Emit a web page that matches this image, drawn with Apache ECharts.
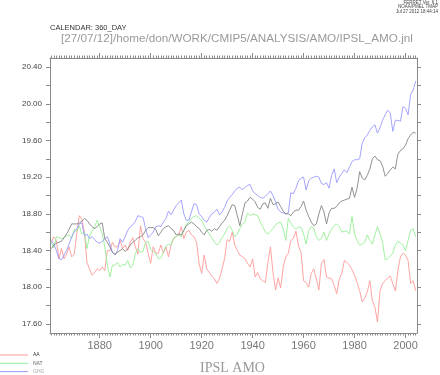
<!DOCTYPE html>
<html>
<head>
<meta charset="utf-8">
<script src="https://cdn.jsdelivr.net/npm/echarts@6/dist/echarts.min.js"></script>
<style>
html,body{margin:0;padding:0;background:#fff;}
#chart{width:440px;height:375px;}
</style>
</head>
<body>
<div id="chart"></div>
<script>
// ---- data (annual values) ----
var startYear = 1861;

var seriesNames = ['AA', 'NAT', 'GHG', 'ALL'];
var legendNames = ['AA', 'NAT', 'GHG'];

var aaValues = [
18.49,18.55,18.51,18.31,18.42,18.31,18.36,18.44,18.33,18.36,
18.58,18.78,18.74,18.60,18.27,18.20,18.13,18.16,18.20,18.18,
18.22,18.18,18.40,18.40,18.49,18.44,18.44,18.51,18.42,18.46,
18.40,18.49,18.54,18.44,18.36,18.67,18.53,18.49,18.37,18.26,
18.44,18.37,18.37,18.46,18.37,18.44,18.33,18.46,18.53,18.55,
18.57,18.66,18.53,18.60,18.62,18.57,18.55,18.49,18.26,18.15,
18.35,18.20,18.16,18.12,18.09,18.04,18.09,18.20,18.31,18.52,
18.50,18.60,18.46,18.40,18.35,18.33,18.31,18.26,18.22,18.31,
18.11,18.16,18.09,18.07,18.05,18.27,18.44,18.16,17.97,18.10,
17.99,18.22,18.33,18.37,18.51,18.53,18.61,18.45,18.38,18.07,
18.05,18.00,18.15,18.20,18.09,17.97,18.26,18.30,18.11,18.10,
18.09,18.02,17.93,18.09,18.15,18.29,18.27,18.24,18.19,18.13,
18.05,17.96,17.84,17.88,17.95,18.07,17.85,17.78,17.62,17.96,
18.04,18.07,18.10,18.12,18.04,17.96,18.18,18.33,18.37,18.35,
18.29,18.04,18.07,17.96
];

var natValues = [
18.49,18.43,18.55,18.54,18.53,18.54,18.56,18.57,18.53,18.63,
18.61,18.67,18.58,18.60,18.42,18.56,18.61,18.66,18.73,18.66,
18.58,18.44,18.24,18.11,18.24,18.24,18.27,18.22,18.25,18.24,
18.29,18.21,18.24,18.37,18.42,18.38,18.39,18.49,18.50,18.41,
18.39,18.37,18.31,18.32,18.38,18.45,18.47,18.46,18.54,18.55,
18.57,18.55,18.62,18.69,18.71,18.75,18.77,18.78,18.75,18.73,
18.67,18.62,18.58,18.54,18.49,18.46,18.49,18.54,18.58,18.64,
18.67,18.62,18.55,18.58,18.64,18.69,18.71,18.81,18.78,18.80,
18.79,18.78,18.71,18.66,18.60,18.58,18.61,18.64,18.68,18.70,
18.71,18.64,18.51,18.75,18.70,18.66,18.63,18.66,18.65,18.58,
18.47,18.62,18.66,18.64,18.55,18.51,18.53,18.60,18.51,18.58,
18.63,18.67,18.69,18.66,18.60,18.61,18.61,18.58,18.77,18.58,
18.51,18.46,18.47,18.49,18.57,18.51,18.47,18.57,18.66,18.58,
18.49,18.30,18.31,18.34,18.37,18.46,18.50,18.48,18.46,18.40,
18.51,18.62,18.64,18.55
];

var ghgValues = [
18.51,18.47,18.40,18.31,18.30,18.35,18.40,18.47,18.55,18.60,
18.64,18.69,18.70,18.56,18.58,18.53,18.55,18.52,18.49,18.48,
18.50,18.53,18.55,18.47,18.38,18.35,18.40,18.53,18.49,18.55,
18.62,18.66,18.68,18.72,18.78,18.77,18.76,18.64,18.54,18.57,
18.60,18.66,18.67,18.66,18.71,18.75,18.83,18.79,18.84,18.89,
18.92,18.95,18.80,18.73,18.73,18.82,18.91,18.90,18.80,18.77,
18.73,18.71,18.76,18.80,18.82,18.85,18.79,18.82,18.87,18.94,
18.98,19.01,19.05,19.08,19.09,19.06,19.09,19.11,19.12,19.05,
19.02,19.00,18.98,18.97,18.99,19.02,19.05,19.00,18.93,18.85,
18.82,18.81,18.80,18.81,19.03,19.02,19.08,19.16,19.19,19.20,
19.06,19.16,19.19,19.20,19.21,19.20,19.13,19.12,19.14,19.08,
19.22,19.29,19.14,19.20,19.24,19.28,19.25,19.31,19.37,19.39,
19.39,19.40,19.57,19.63,19.66,19.71,19.75,19.77,19.68,19.74,
19.82,19.88,19.93,19.90,19.70,19.82,19.82,19.81,19.97,19.95,
19.88,20.10,20.15,20.25
];

var allValues = [
18.42,18.46,18.48,18.49,18.50,18.54,18.58,18.63,18.69,18.69,
18.69,18.70,18.72,18.75,18.73,18.69,18.66,18.64,18.66,18.69,
18.70,18.53,18.49,18.44,18.38,18.36,18.38,18.40,18.42,18.39,
18.42,18.46,18.49,18.51,18.54,18.55,18.57,18.62,18.65,18.65,
18.65,18.63,18.56,18.60,18.64,18.66,18.67,18.64,18.62,18.57,
18.58,18.57,18.62,18.67,18.69,18.71,18.69,18.66,18.64,18.60,
18.57,18.62,18.63,18.61,18.64,18.62,18.66,18.70,18.73,18.78,
18.84,18.90,18.89,18.78,18.67,18.80,18.92,18.94,18.98,18.96,
18.93,18.87,18.85,18.91,18.92,18.86,18.97,18.90,18.91,18.93,
18.88,18.83,18.80,18.80,18.78,18.82,18.84,18.84,18.88,18.94,
18.84,18.77,18.71,18.67,18.69,18.80,18.89,18.82,18.69,18.81,
18.86,18.86,18.88,18.92,18.94,18.95,18.96,18.97,19.09,18.98,
19.08,19.26,19.19,19.17,19.22,19.29,19.40,19.43,19.39,19.38,
19.32,19.21,19.24,19.28,19.31,19.29,19.45,19.49,19.51,19.55,
19.62,19.66,19.69,19.68
];

var xTickLabels = [1880, 1900, 1920, 1940, 1960, 1980, 2000];
var yTickLabels = [17.6, 18.0, 18.4, 18.8, 19.2, 19.6, 20.0, 20.4];
var yMinorTicks = [17.6, 17.8, 18.0, 18.2, 18.4, 18.6, 18.8, 19.0, 19.2, 19.4, 19.6, 19.8, 20.0, 20.2, 20.4];

// ---- build ----
function pairs(vals) {
  var out = [];
  for (var i = 0; i < vals.length; i++) out.push([startYear + i, vals[i]]);
  return out;
}
var xMinorTicks = [];
for (var y = 1861; y <= 2004; y++) xMinorTicks.push(y);

var FONT = 'Liberation Sans, Arial, sans-serif';
var frameColor = '#8a8a8a';
var colors = {AA: '#ff9a9a', NAT: '#96ee96', GHG: '#9a9aff', ALL: '#858585'};
var legendTextColors = {AA: '#333', NAT: '#666', GHG: '#aaa'};
var XMIN = 1860.5, XMAX = 2004.5;

function xAxisDef(pos, ticks, len, showLabel, showLine) {
  return {
    type: 'value', position: pos, min: XMIN, max: XMAX,
    splitLine: {show: false},
    axisLine: {show: showLine, lineStyle: {color: frameColor, width: 1}},
    axisTick: {show: true, customValues: ticks, length: len, inside: false,
               lineStyle: {color: frameColor, width: 1}},
    axisLabel: showLabel ? {show: true, customValues: xTickLabels, fontSize: 11,
               color: '#777', margin: 7, fontFamily: FONT,
               formatter: function (v) { return String(Math.round(v)); }} : {show: false}
  };
}
function yAxisDef(pos, showLabel) {
  return {
    type: 'value', position: pos, min: 17.5, max: 20.5,
    splitLine: {show: false},
    axisLine: {show: true, lineStyle: {color: frameColor, width: 1}},
    axisTick: {show: true, customValues: yMinorTicks, length: 4, inside: false,
               lineStyle: {color: frameColor, width: 1}},
    axisLabel: showLabel ? {show: true, customValues: yTickLabels, fontSize: 8,
               color: '#444', margin: 8, fontFamily: FONT,
               formatter: function (v) { return v.toFixed(2); }} : {show: false}
  };
}

var chart = echarts.init(document.getElementById('chart'), null, {renderer: 'canvas'});
var valueMap = {AA: aaValues, NAT: natValues, GHG: ghgValues, ALL: allValues};

var legends = legendNames.map(function (n, i) {
  return {
    show: true, orient: 'vertical', left: 0, top: 352 + i * 8.3,
    itemWidth: 28, itemHeight: 1, itemGap: 0, icon: 'rect', padding: 0,
    selectedMode: false,
    textStyle: {fontSize: 5, lineHeight: 6, fontFamily: FONT, color: legendTextColors[n]},
    data: [n]
  };
});

chart.setOption({
  animation: false,
  backgroundColor: '#ffffff',
  grid: {left: 50, top: 58, width: 367, height: 275, containLabel: false},
  xAxis: [
    xAxisDef('bottom', xTickLabels, 5, true, true),
    xAxisDef('bottom', xMinorTicks, 2.5, false, false),
    xAxisDef('top', xTickLabels, 5, false, true),
    xAxisDef('top', xMinorTicks, 2.5, false, false)
  ],
  yAxis: [yAxisDef('left', true), yAxisDef('right', false)],
  legend: legends,
  series: seriesNames.map(function (n) {
    return {
      name: n, type: 'line', xAxisIndex: 0, yAxisIndex: 0,
      data: pairs(valueMap[n]), showSymbol: false, symbol: 'none',
      lineStyle: {color: colors[n], width: 0.9}, itemStyle: {color: colors[n]},
      silent: true
    };
  }),
  graphic: [
    {type: 'text', right: 2, top: 0, style: {text: 'FERRET Ver. 6.1', fontSize: 4.5, fill: '#444', align: 'right', fontFamily: FONT}},
    {type: 'text', right: 2, top: 4.5, style: {text: 'NOAA/PMEL TMAP', fontSize: 4.5, fill: '#444', align: 'right', fontFamily: FONT}},
    {type: 'text', right: 2, top: 9, style: {text: 'Jul 27 2012 18:44:14', fontSize: 4.5, fill: '#444', align: 'right', fontFamily: FONT}},
    {type: 'text', left: 50, top: 24, style: {text: 'CALENDAR: 360_DAY', fontSize: 7.5, fill: '#333', fontFamily: FONT}},
    {type: 'text', left: 61, top: 33, style: {text: '[27/07/12]/home/don/WORK/CMIP5/ANALYSIS/AMO/IPSL_AMO.jnl',
      fontSize: 11.7, fill: '#9a9a9a', fontFamily: FONT}},
    {type: 'text', left: 200, top: 361, style: {text: 'IPSL AMO', fontSize: 14, fill: '#999',
      fontFamily: 'Liberation Serif, DejaVu Serif, serif'}}
  ]
});
</script>
</body>
</html>
